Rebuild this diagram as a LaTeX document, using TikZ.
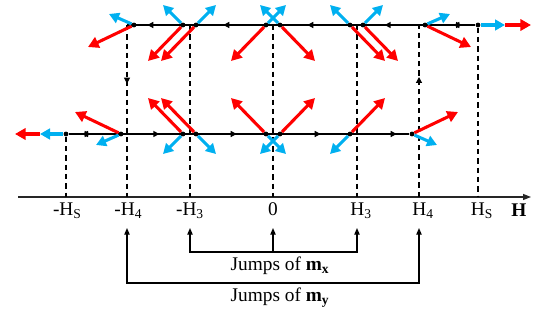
\documentclass[tikz,border=0pt]{standalone}
\usepackage{fontspec}
\setmainfont{Liberation Serif}
\usetikzlibrary{arrows.meta, positioning, calc, backgrounds, decorations.markings}

\definecolor{magred}{RGB}{255,0,0}
\definecolor{magcyan}{RGB}{0,176,240}

\begin{document}
\begin{tikzpicture}[x=0.75pt, y=-0.75pt,
  every node/.style={font=\fontsize{14.5}{17}\selectfont},
  dot/.style={circle, fill=black, inner sep=0pt, minimum size=3.6pt},
  branch/.style={line width=1.1pt, postaction={decorate},
    decoration={markings,
      mark=at position 10pt with {\arrowreversed{Triangle[length=4.5pt,width=4.5pt]}},
      mark=at position 16.5pt with {\arrow{Triangle[length=4.5pt,width=4.5pt]}},
      mark=at position 68pt with {\arrow{Triangle[length=4.5pt,width=4.5pt]}},
      mark=at position 126pt with {\arrow{Triangle[length=4.5pt,width=4.5pt]}},
      mark=at position 189pt with {\arrow{Triangle[length=4.5pt,width=4.5pt]}},
      mark=at position 246pt with {\arrow{Triangle[length=4.5pt,width=4.5pt]}}}},
  jump/.style={line width=0.9pt, dash pattern=on 4pt off 3pt},
  jump mark/.style={postaction={decorate},
    decoration={markings, mark=at position #1 with {\arrow{Triangle[length=4.5pt,width=4.5pt]}}}},
  cvec/.style={draw=magcyan, line width=2.3pt, -{Triangle[length=7.5pt,width=8pt]}},
  rvec/.style={draw=magred, line width=2.3pt, -{Triangle[length=8pt,width=8.5pt]}},
  ticklbl/.style={inner sep=1pt},
  jline/.style={line width=0.9pt},
  jarr/.style={jline, {Triangle[length=5pt,width=4pt]}-{Triangle[length=5pt,width=4pt]}},
  jup/.style={jline, -{Triangle[length=5pt,width=4pt]}},
]
\useasboundingbox (0,0) rectangle (536,320);

%% FIELD AXIS
\coordinate (axL) at (18,197);
\coordinate (axR) at (531,197);
\foreach \n/\x/\lbl/\dx in {HSm/66/{-H\textsubscript{S}}/1pt, H4m/127/{-H\textsubscript{4}}/1pt,
    H3m/190/{-H\textsubscript{3}}/0pt, 0/273/{0}/0pt, H3/357/{H\textsubscript{3}}/3pt,
    H4/419/{H\textsubscript{4}}/3pt, HS/478/{H\textsubscript{S}}/3pt} {
  \coordinate (a\n) at (\x,197);
  \node[ticklbl, below=3pt of a\n, xshift=\dx] (l\n) {\lbl};
}
\node (Hlbl) at (519,210) {\textbf{H}};

%% UPPER BRANCH (decreasing field)
\coordinate (t0) at (127,25);
\foreach \n/\x/\cx/\cy/\rx/\ry in {1/134/-25/-11/-46/22, 2/183/-20/-20/-35/36,
    3/196/20/-20/-35/36, 4/266/20/-20/-35/36, 5/280/-20/-20/35/36,
    6/350/-20/-20/35/36, 7/363/20/-20/35/36, 8/425/25/-11/46/22} {
  \node[dot] (t\n) at (\x,25) {};
  \coordinate (t\n-c) at ($(t\n)+(\cx,\cy)$);
  \coordinate (t\n-r) at ($(t\n)+(\rx,\ry)$);
}
\node[dot] (t9) at (478,25) {};
\coordinate (t9-c) at (505,25);
\coordinate (t9-r) at (531,25);

%% LOWER BRANCH (increasing field)
\node[dot] (b1) at (66,134) {};
\coordinate (b1-c) at (40,134);
\coordinate (b1-r) at (15,134);
\foreach \n/\x/\cx/\cy/\rx/\ry in {2/121/-25/11/-46/-22, 3/183/-20/20/-35/-36,
    4/196/20/20/-35/-36, 5/266/20/20/-35/-36, 6/280/-20/20/35/-36,
    7/350/-20/20/35/-36, 8/412/25/11/46/-22} {
  \node[dot] (b\n) at (\x,134) {};
  \coordinate (b\n-c) at ($(b\n)+(\cx,\cy)$);
  \coordinate (b\n-r) at ($(b\n)+(\rx,\ry)$);
}

\begin{pgfonlayer}{background}
  \draw[line width=1pt, black!85, -{Triangle[length=6pt,width=4.5pt]}] (axL) -- (axR);

  %% jumps between branches
  \draw[jump] (b1) -- (aHSm);
  \draw[jump, jump mark=44pt] (t0) -- (aH4m);
  \draw[jump] (aH3m |- t0) -- (aH3m);
  \draw[jump] (a0 |- t0) -- (a0);
  \draw[jump] (aH3 |- t0) -- (aH3);
  \draw[jump, jump mark=90pt] (aH4) -- (aH4 |- t0);
  \draw[jump] (t9) -- (aHS);

  \draw[branch] (t9) -- (t0);
  \draw[branch] (b1) -- (b8);

  %% sublattice moments
  \foreach \n in {1,...,8} {
    \draw[rvec] (t\n) -- (t\n-r);
    \draw[cvec] (t\n) -- (t\n-c);
  }
  \foreach \n in {2,...,8} {
    \draw[rvec] (b\n) -- (b\n-r);
    \draw[cvec] (b\n) -- (b\n-c);
  }
  \draw[rvec] (t9-c) -- (t9-r);
  \draw[cvec] (t9) -- (t9-c);
  \draw[rvec] (b1-c) -- (b1-r);
  \draw[cvec] (b1) -- (b1-c);
\end{pgfonlayer}

%% JUMPS LEGEND
\coordinate (tip) at (0,228);
\coordinate (jxL) at (190,252);
\coordinate (jxM) at (273,252);
\coordinate (jxR) at (357,252);
\coordinate (jyL) at (127,283);
\coordinate (jyR) at (419,283);
\draw[jarr] (jxL |- tip) -- (jxL) -- (jxR) -- (jxR |- tip);
\draw[jup] (jxM) -- (jxM |- tip);
\draw[jarr] (jyL |- tip) -- (jyL) -- (jyR) -- (jyR |- tip);
\node (jxtxt) at (280,266) {Jumps of \textbf{m}\textsubscript{\textbf{x}}};
\node (jytxt) at (280,298) {Jumps of \textbf{m}\textsubscript{\textbf{y}}};
\end{tikzpicture}
\end{document}
